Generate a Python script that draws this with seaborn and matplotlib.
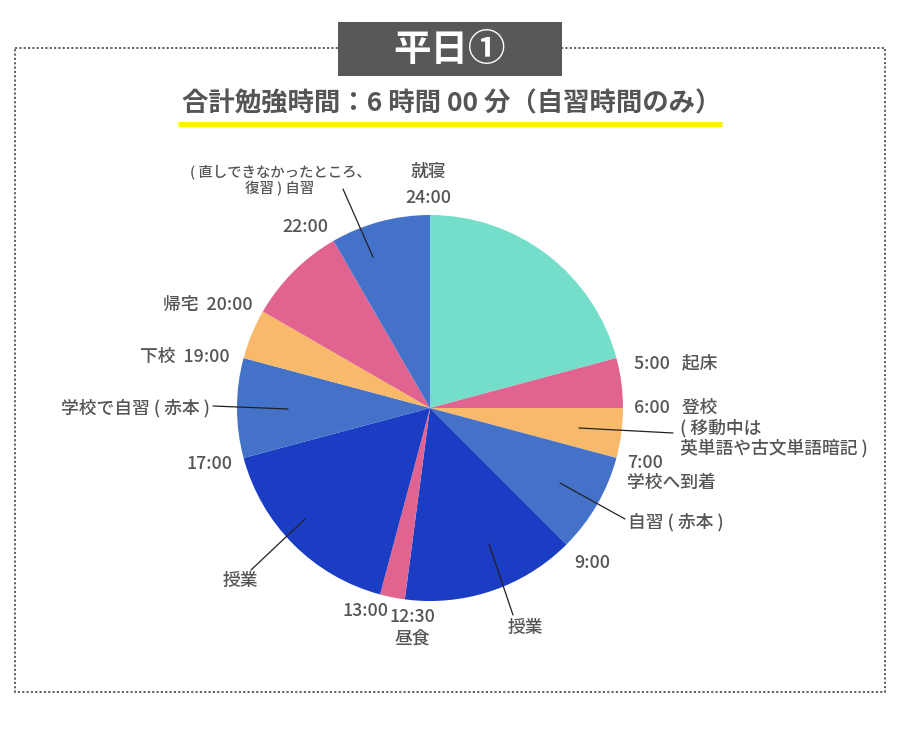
import matplotlib
matplotlib.use("Agg")
import matplotlib.pyplot as plt
from matplotlib.patches import Rectangle
import seaborn as sns

# schedule of a weekday, hours per slot, starting at 0:00 going clockwise
slots = ["就寝", "起床", "登校", "自習（赤本）", "授業", "授業", "昼食", "授業",
         "学校で自習", "下校", "帰宅", "自習"]
hours = [5, 1, 1, 2, 3, 0.5, 0.5, 4, 2, 1, 2, 2]
kinds = ["sleep", "home", "move", "study", "class", "class", "home", "class",
         "study", "move", "home", "study"]

title = "平日①"
subtitle = "合計勉強時間：6 時間 00 分（自習時間のみ）"

sns.set_theme(style="white")
plt.rcParams["font.family"] = ["Noto Sans CJK JP", "DejaVu Sans"]

palette = {"sleep": "#74DECA", "home": "#E0648F", "move": "#F8BA6A",
           "study": "#4472C8", "class": "#1A3DC4"}
colors = [palette[k] for k in kinds]

W, H = 900, 752
fig = plt.figure(figsize=(W / 100, H / 100), dpi=100)

# pie: center (430, 408), radius 193 px
cx, cy, r = 430, 408, 193
ax = fig.add_axes([(cx - r) / W, (H - cy - r) / H, 2 * r / W, 2 * r / H])
ax.pie(hours, colors=colors, startangle=90, counterclock=False,
       wedgeprops=dict(linewidth=0))
ax.set_xlim(-1, 1)
ax.set_ylim(-1, 1)
ax.axis("off")

# overlay in pixel coordinates for frame, titles and labels
ov = fig.add_axes([0, 0, 1, 1])
ov.set_xlim(0, W)
ov.set_ylim(H, 0)
ov.axis("off")
ov.patch.set_alpha(0)

ov.add_patch(Rectangle((15, 48), 870, 644, fill=False, edgecolor="#555555",
                       linestyle=(0, (1.2, 1.2)), linewidth=1.3))
ov.add_patch(Rectangle((338, 22), 224, 54, facecolor="#595757", edgecolor="none"))
ov.text(450, 49, title, color="white", fontsize=27, fontweight="bold",
        ha="center", va="center")
ov.text(452, 104, subtitle, color="#555555", fontsize=19, fontweight="bold",
        ha="center", va="center")
ov.plot([178, 722], [123.5, 123.5], color="#FFF000", linewidth=3.6,
        solid_capstyle="butt")

tc = "#555555"
fs = 12.8


def lab(x, y, s, ha="left", size=fs):
    ov.text(x, y, s, color=tc, fontsize=size, ha=ha, va="center",
            fontweight="medium", linespacing=1.1)


def lead(x0, y0, x1, y1):
    ov.plot([x0, x1], [y0, y1], color="#222222", linewidth=0.9)


lab(428, 172, "就寝", ha="center")
lab(428, 198, "24:00", ha="center")
lab(280, 180, "( 直しできなかったところ、\n復習 ) 自習", ha="center", size=10.4)
lead(343, 189, 373, 257)
lab(305, 227, "22:00", ha="center")
lab(253, 305, "帰宅  20:00", ha="right")
lab(230, 357, "下校  19:00", ha="right")
lab(210, 408, "学校で自習 ( 赤本 )", ha="right")
lead(213, 406, 288, 409)
lab(210, 464, "17:00", ha="center")
lab(240, 581, "授業", ha="center")
lead(305, 519, 251, 570)
lab(365, 611, "13:00", ha="center")
lab(412, 617, "12:30", ha="center")
lab(412, 639, "昼食", ha="center")
lab(525, 628, "授業", ha="center")
lead(489, 544, 513, 615)
lab(592, 563, "9:00", ha="center")
lab(628, 522, "自習 ( 赤本 )")
lead(560, 483, 625, 519)
lab(627, 463, "7:00")
lab(627, 483, "学校へ到着")
lab(634, 408, "6:00   登校")
lab(680, 438, "( 移動中は\n英単語や古文単語暗記 )")
lead(579, 428, 673, 433)
lab(634, 363, "5:00   起床")

fig.savefig("out.png", dpi=100)
